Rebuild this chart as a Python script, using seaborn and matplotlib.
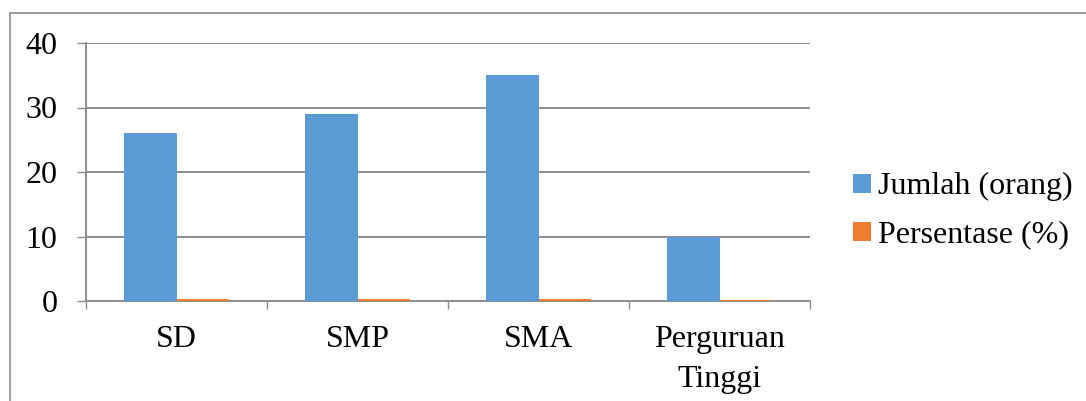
import matplotlib
matplotlib.use("Agg")
import matplotlib.pyplot as plt
import seaborn as sns
import pandas as pd
from matplotlib.patches import Patch
from matplotlib.lines import Line2D

categories = ["SD", "SMP", "SMA", "Perguruan\nTinggi"]
jumlah = [26, 29, 35, 10]
persentase = [0.26, 0.29, 0.35, 0.10]
series_names = ["Jumlah (orang)", "Persentase (%)"]
colors = ["#5B9BD5", "#ED7D31"]
y_ticks = [0, 10, 20, 30, 40]

sns.set_theme(style="white")
plt.rcParams["font.family"] = ["Liberation Serif", "DejaVu Serif"]
plt.rcParams["text.color"] = "black"

df = pd.DataFrame({
    "kategori": categories * 2,
    "nilai": jumlah + persentase,
    "seri": [series_names[0]] * len(categories) + [series_names[1]] * len(categories),
})

W, H, DPI = 1086, 401, 100
fig = plt.figure(figsize=(W / DPI, H / DPI), dpi=DPI)
ax = fig.add_axes([86 / W, 1 - 301 / H, (810 - 86) / W, (301 - 43) / H])

sns.barplot(data=df, x="kategori", y="nilai", hue="seri", palette=colors,
            order=categories, hue_order=series_names, width=0.575, gap=0,
            saturation=1, errorbar=None, legend=False, ax=ax, zorder=3,
            linewidth=0, edgecolor="none")

grid_c = "#8c8c8c"
ax.set_ylim(0, 40)
ax.set_xlim(-0.5, len(categories) - 0.5)
ax.set_yticks(y_ticks)
ax.set_yticklabels([str(v) for v in y_ticks], fontsize=23, color="black")
ax.set_xticklabels(categories, fontsize=23, color="black", linespacing=1.5)
ax.set_xlabel("")
ax.set_ylabel("")

for y in y_ticks[1:]:
    ax.axhline(y, color=grid_c, lw=1.4, zorder=1)

for side in ["top", "right"]:
    ax.spines[side].set_visible(False)
for side in ["left", "bottom"]:
    ax.spines[side].set_color(grid_c)
    ax.spines[side].set_linewidth(1.4)

ax.tick_params(axis="y", which="major", direction="out", length=6.5, width=1.0,
               color=grid_c, pad=14, left=True)
ax.tick_params(axis="x", which="major", length=0, pad=17)
ax.set_xticks([i - 0.5 for i in range(len(categories) + 1)], minor=True)
ax.tick_params(axis="x", which="minor", direction="out", length=6, width=1.0,
               color=grid_c, bottom=True)

handles = [Patch(facecolor=c, edgecolor="none") for c in colors]
leg = fig.legend(handles, series_names, loc="center left",
                 bbox_to_anchor=(831 / W, 1 - 211 / H), frameon=False,
                 fontsize=23, handlelength=0.55, handleheight=0.55,
                 handletextpad=0.22, labelspacing=0.6, borderpad=0.2)
for t in leg.get_texts():
    t.set_color("black")

# outer chart frame (left and top edges)
fig.add_artist(Line2D([9.5 / W, 9.5 / W], [0, 1 - 12.5 / H], transform=fig.transFigure,
                      color=grid_c, lw=1.2))
fig.add_artist(Line2D([9.5 / W, 1], [1 - 12.5 / H, 1 - 12.5 / H], transform=fig.transFigure,
                      color=grid_c, lw=1.2))

fig.savefig("out.png", dpi=DPI, facecolor="white")
